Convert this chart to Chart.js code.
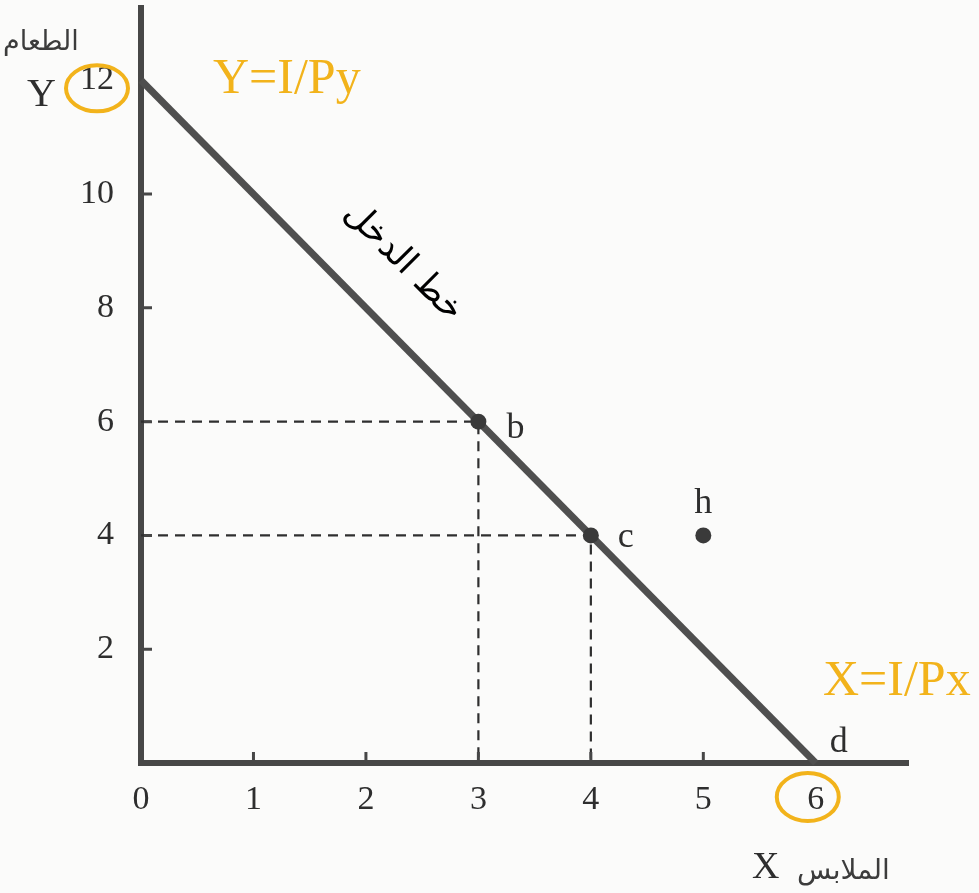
<!DOCTYPE html>
<html>
<head>
<meta charset="utf-8">
<script src="https://cdn.jsdelivr.net/npm/chart.js@4/dist/chart.umd.min.js"></script>
<style>
  html, body { margin: 0; padding: 0; background: #fbfbfa; }
  #wrap { width: 979px; height: 893px; }
</style>
</head>
<body>
<div id="wrap"><canvas id="budget" width="979" height="893"></canvas></div>
<script>
// Axis ticks
const xTicks = [0, 1, 2, 3, 4, 5, 6];
const yTicks = [2, 4, 6, 8, 10, 12];

// Budget (income) line: intercepts I/Py on Y and I/Px on X
const budgetX = [0, 6];
const budgetY = [12, 0];

// Consumption bundles
const pointNames = ['b', 'c', 'h'];
const pointX = [3, 4, 5];
const pointY = [6, 4, 4];

// Bundles projected onto both axes with dashed guides
const guideNames = ['b', 'c'];

const SERIF = "'Liberation Serif', 'DejaVu Serif', serif";
const ARABIC = "'DejaVu Sans', sans-serif";
const INK = '#2e2e2e';
const GOLD = '#f2b31b';

const budgetData = budgetX.map((x, i) => ({ x, y: budgetY[i] }));
const bundleData = pointX.map((x, i) => ({ x, y: pointY[i] }));
const guideSets = guideNames.map(name => {
  const i = pointNames.indexOf(name);
  return {
    data: [{ x: 0, y: pointY[i] }, { x: pointX[i], y: pointY[i] }, { x: pointX[i], y: 0 }],
    borderColor: '#2f2f2f',
    borderWidth: 2.2,
    borderDash: [10, 7],
    pointRadius: 0,
    fill: false,
    tension: 0,
    order: 3
  };
});

// keep the plot area flush with the canvas edges (no label overhang padding)
const noOverhang = s => {
  s.paddingTop = 0; s.paddingBottom = 0; s.paddingLeft = 0; s.paddingRight = 0;
};

const notes = {
  id: 'notes',
  afterDraw(chart) {
    const { ctx, scales: { x, y } } = chart;
    const px = v => x.getPixelForValue(v);
    const py = v => y.getPixelForValue(v);
    ctx.save();

    // short tick marks on the inner side of both axes
    ctx.strokeStyle = '#474747';
    ctx.lineWidth = 3;
    ctx.beginPath();
    xTicks.filter(v => v > 0 && v < 6).forEach(v => {
      ctx.moveTo(px(v), py(0) - 3); ctx.lineTo(px(v), py(0) - 11);
    });
    yTicks.filter(v => v < 12).forEach(v => {
      ctx.moveTo(px(0) + 3, py(v)); ctx.lineTo(px(0) + 11, py(v));
    });
    ctx.stroke();

    // bundle letters
    ctx.fillStyle = INK;
    ctx.font = `36px ${SERIF}`;
    ctx.textBaseline = 'alphabetic';
    const letterPos = {
      b: { dx: 28, dy: 16, align: 'left' },
      c: { dx: 27, dy: 12, align: 'left' },
      h: { dx: 0, dy: -22, align: 'center' }
    };
    pointNames.forEach((n, i) => {
      const p = letterPos[n];
      ctx.textAlign = p.align;
      ctx.fillText(n, px(pointX[i]) + p.dx, py(pointY[i]) + p.dy);
    });
    ctx.textAlign = 'left';
    ctx.fillText('d', px(budgetX[1]) + 14, py(budgetY[1]) - 11);

    // axis names
    ctx.font = `40px ${SERIF}`;
    ctx.fillText('Y', 27, py(12) + 26);
    ctx.font = `38px ${SERIF}`;
    ctx.fillText('X', 752, 878);
    ctx.font = `27px ${ARABIC}`;
    ctx.fillStyle = '#3c3c3c';
    ctx.fillText('الطعام', 3, 50);
    ctx.font = `28px ${ARABIC}`;
    ctx.fillText('الملابس', 797, 879);

    // label along the budget line
    ctx.save();
    ctx.translate(403, 262);
    ctx.rotate(Math.PI / 4);
    ctx.fillStyle = '#000';
    ctx.font = `35px ${ARABIC}`;
    ctx.textAlign = 'center';
    ctx.textBaseline = 'middle';
    ctx.fillText('خط الدخل', 0, 0);
    ctx.restore();

    // intercept formulas with highlighted tick values
    ctx.fillStyle = GOLD;
    ctx.font = `50px ${SERIF}`;
    ctx.textAlign = 'left';
    ctx.fillText('Y=I/Py', 213, 93);
    ctx.fillText('X=I/Px', 823, 695);

    ctx.strokeStyle = GOLD;
    ctx.lineWidth = 4;
    ctx.beginPath();
    ctx.ellipse(97, py(12) + 8, 31, 23, 0, 0, Math.PI * 2);
    ctx.stroke();
    ctx.beginPath();
    ctx.ellipse(px(6) - 8, 797, 31, 24, 0, 0, Math.PI * 2);
    ctx.stroke();

    ctx.restore();
  }
};

new Chart(document.getElementById('budget'), {
  type: 'line',
  data: {
    datasets: [
      {
        data: budgetData,
        borderColor: '#4f4f4f',
        borderWidth: 7,
        pointRadius: 0,
        fill: false,
        tension: 0,
        order: 2
      },
      ...guideSets,
      {
        type: 'scatter',
        data: bundleData,
        pointRadius: 8,
        pointBackgroundColor: '#3a3a3a',
        pointBorderWidth: 0,
        showLine: false,
        order: 1
      }
    ]
  },
  options: {
    responsive: false,
    animation: false,
    devicePixelRatio: 1,
    layout: { padding: { top: 0, right: 71, left: 0, bottom: 0 } },
    plugins: { legend: { display: false }, tooltip: { enabled: false } },
    datasets: { line: { clip: false }, scatter: { clip: false } },
    scales: {
      x: {
        type: 'linear',
        min: 0,
        max: 6.82,
        afterBuildTicks: s => { s.ticks = xTicks.map(v => ({ value: v })); },
        afterFit: s => { s.height = 130; noOverhang(s); },
        grid: { display: false, drawTicks: false },
        border: { display: true, color: '#474747', width: 6 },
        ticks: {
          autoSkip: false, maxRotation: 0, padding: 17, color: INK,
          font: { family: SERIF, size: 34 }
        }
      },
      y: {
        type: 'linear',
        min: 0,
        max: 13.27,
        afterBuildTicks: s => { s.ticks = yTicks.map(v => ({ value: v })); },
        afterFit: s => { s.width = 141; noOverhang(s); },
        grid: { display: false, drawTicks: false },
        border: { display: true, color: '#474747', width: 6 },
        ticks: {
          autoSkip: false, padding: 27, color: INK,
          font: { family: SERIF, size: 34 }
        }
      }
    }
  },
  plugins: [notes]
});
</script>
</body>
</html>
